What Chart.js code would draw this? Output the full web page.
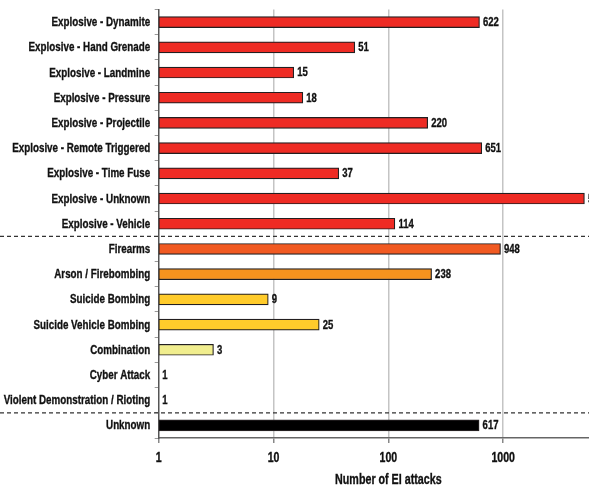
<!DOCTYPE html>
<html>
<head>
<meta charset="utf-8">
<script src="https://cdn.jsdelivr.net/npm/chart.js@4.4.1/dist/chart.umd.min.js"></script>
<style>
html,body{margin:0;padding:0;background:#fff;overflow:hidden;width:589px;height:486px;}
canvas{display:block;}
</style>
</head>
<body>
<canvas id="c" width="620" height="486"></canvas>
<script>
const categories = [
  "Explosive - Dynamite",
  "Explosive - Hand Grenade",
  "Explosive - Landmine",
  "Explosive - Pressure",
  "Explosive - Projectile",
  "Explosive - Remote Triggered",
  "Explosive - Time Fuse",
  "Explosive - Unknown",
  "Explosive - Vehicle",
  "Firearms",
  "Arson / Firebombing",
  "Suicide Bombing",
  "Suicide Vehicle Bombing",
  "Combination",
  "Cyber Attack",
  "Violent Demonstration / Rioting",
  "Unknown"
];
const attacks = [622, 51, 15, 18, 220, 651, 37, 5100, 114, 948, 238, 9, 25, 3, 1, 1, 617];
const barColors = [
  "#EE2B24","#EE2B24","#EE2B24","#EE2B24","#EE2B24","#EE2B24","#EE2B24","#EE2B24","#EE2B24",
  "#F15A22","#F7931E","#FFCB2B","#FFCB2B","#F1EE8E","#FFCB2B","#FFCB2B","#000000"
];
const xTicks = [1, 10, 100, 1000];
const xTitle = "Number of EI attacks";
const separatorsAfter = [8, 15];

const FONT = "'Liberation Sans',Arial,sans-serif";
const NARROW = 0.755;

function narrowText(ctx, text, x, y, align, size) {
  ctx.save();
  ctx.font = "bold " + size + "px " + FONT;
  ctx.fillStyle = "#111";
  ctx.strokeStyle = "#111";
  ctx.lineWidth = 0.35;
  ctx.textAlign = align;
  ctx.textBaseline = "middle";
  ctx.translate(x, y);
  ctx.scale(NARROW, 1);
  ctx.fillText(text, 0, 0);
  ctx.strokeText(text, 0, 0);
  ctx.restore();
}

const textLayer = {
  id: 'textLayer',
  afterDraw(chart) {
    const ctx = chart.ctx;
    const xs = chart.scales.x;
    const ys = chart.scales.y;
    categories.forEach((c, i) => {
      narrowText(ctx, c, ys.right - 8.5, ys.getPixelForValue(i) + 0.5, 'right', 13);
    });
    const meta = chart.getDatasetMeta(0);
    meta.data.forEach((bar, i) => {
      narrowText(ctx, String(attacks[i]), bar.x + 3.5, bar.y + 0.5, 'left', 12.6);
    });
    xTicks.forEach(v => {
      narrowText(ctx, String(v), xs.getPixelForValue(v), xs.top + 20, 'center', 14);
    });
    narrowText(ctx, xTitle, (xs.left + xs.right) / 2, xs.top + 42, 'center', 14.2);
  }
};

const separators = {
  id: 'separators',
  afterDraw(chart) {
    const ctx = chart.ctx;
    const y = chart.scales.y;
    ctx.save();
    ctx.strokeStyle = "#333";
    ctx.lineWidth = 1.3;
    ctx.setLineDash([4, 3]);
    separatorsAfter.forEach(i => {
      const py = (y.getPixelForValue(i) + y.getPixelForValue(i + 1)) / 2;
      ctx.beginPath();
      ctx.moveTo(0, py);
      ctx.lineTo(chart.width, py);
      ctx.stroke();
    });
    ctx.restore();
  }
};

new Chart(document.getElementById('c'), {
  type: 'bar',
  data: {
    labels: categories,
    datasets: [{
      data: attacks,
      backgroundColor: barColors,
      borderColor: "#231F20",
      borderWidth: 1.2,
      borderSkipped: false,
      barThickness: 11
    }]
  },
  plugins: [textLayer, separators],
  options: {
    indexAxis: 'y',
    responsive: false,
    animation: false,
    events: [],
    layout: { padding: { top: 9.5, right: 2, left: 0, bottom: 0 } },
    plugins: { legend: { display: false }, tooltip: { enabled: false } },
    scales: {
      x: {
        type: 'logarithmic',
        min: 1,
        max: 10000,
        afterBuildTicks(scale) { scale.ticks = xTicks.map(v => ({ value: v })); },
        afterFit(scale) { scale.height = 48; },
        ticks: { display: false },
        grid: {
          color: (c) => (c.tick && c.tick.value === 1) ? 'rgba(0,0,0,0)' : '#c4c4c4',
          lineWidth: 1.5,
          tickColor: '#888',
          tickLength: 5
        },
        border: { display: true, color: '#666', width: 1.5 },
        title: { display: false }
      },
      y: {
        afterFit(scale) { scale.width = 158.7; },
        ticks: { display: false },
        grid: {
          display: true,
          drawOnChartArea: false,
          drawTicks: true,
          tickLength: 4,
          tickColor: '#999',
          offset: true
        },
        border: { display: true, color: '#555', width: 1.5 }
      }
    }
  }
});
</script>
</body>
</html>
